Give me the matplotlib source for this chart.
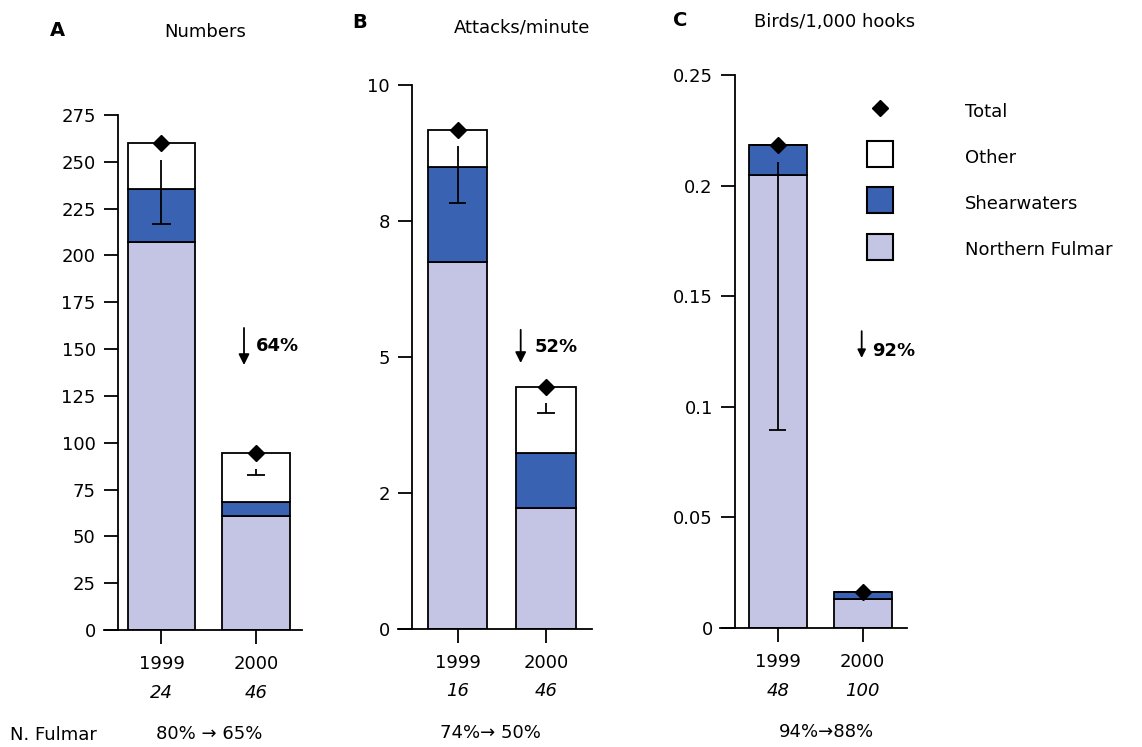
import matplotlib
matplotlib.use("Agg")
import numpy as np
import matplotlib.pyplot as plt
from matplotlib.lines import Line2D

plt.rcParams['font.family'] = ['DejaVu Sans']
plt.rcParams['font.size'] = 13

# data
years = ['1999', '2000']

num_fulmar = [207, 61]
num_shear = [28.5, 7.5]
num_other = [24.5, 26]
num_total = [260, 94.5]
num_err_lo = [217, 83]
num_err_hi = [251, 86]

att_fulmar = [6.75, 2.23]
att_shear = [1.74, 1.0]
att_other = [0.68, 1.22]
att_total = [9.17, 4.45]
att_err_lo = [7.84, 3.97]
att_err_hi = [8.88, 4.16]

hook_fulmar = [0.2048, 0.0129]
hook_shear = [0.0135, 0.0035]
hook_other = [0.0, 0.0]
hook_total = [0.2183, 0.0164]
hook_err_lo = [0.0895, np.nan]
hook_err_hi = [0.2108, np.nan]

num_n = ['24', '46']
att_n = ['16', '46']
hook_n = ['48', '100']

fulmar_pct = ['80% \u2192 65%', '74%\u2192 50%', '94%\u219288%']
drops = ['64%', '52%', '92%']

c_fulmar = '#c4c5e4'
c_shear = '#3a62b2'
c_other = 'white'

W, H = 1142, 747
fig = plt.figure(figsize=(W / 100, H / 100), dpi=100)


def make_axes(box_l, box_r, spine_x, c1, c2, y0, ytop):
    ax = fig.add_axes([box_l / W, (H - y0) / H, (box_r - box_l) / W, (y0 - ytop) / H])
    ppu = c2 - c1
    ax.set_xlim((box_l - c1) / ppu, (box_r - c1) / ppu)
    ax.spines['left'].set_position(('data', (spine_x - c1) / ppu))
    ax.spines['top'].set_visible(False)
    ax.spines['right'].set_visible(False)
    ax.spines['left'].set_linewidth(1.3)
    ax.spines['bottom'].set_linewidth(1.3)
    ax.tick_params(direction='out', length=10, width=1.3, labelsize=13, pad=6)
    ax.tick_params(axis='x', pad=8)
    ax.set_xticks([0, 1])
    ax.set_xticklabels(years)
    return ax


def draw_panel(ax, fulmar, shear, other, total, lo, hi, width, cap):
    x = np.arange(len(years))
    b1 = np.array(fulmar)
    b2 = b1 + np.array(shear)
    ax.bar(x, fulmar, width, color=c_fulmar, edgecolor='black', linewidth=1.3, zorder=2)
    ax.bar(x, shear, width, bottom=b1, color=c_shear, edgecolor='black', linewidth=1.3, zorder=2)
    ax.bar(x, other, width, bottom=b2, color=c_other, edgecolor='black', linewidth=1.3, zorder=2)
    ax.vlines(x, lo, hi, color='black', linewidth=1.3, zorder=3)
    ax.hlines(lo, x - cap, x + cap, color='black', linewidth=1.3, zorder=3)
    ax.plot(x, total, 'D', color='black', markersize=8, zorder=4)


def bottom_text(ax, ns, pct, mid=0.5):
    for i, n in enumerate(ns):
        ax.annotate(n, xy=(i, 0), xycoords=('data', 'axes fraction'),
                    xytext=(0, -45), textcoords='offset points',
                    ha='center', va='center', style='italic', fontsize=13)
    ax.annotate(pct, xy=(mid, 0), xycoords=('data', 'axes fraction'),
                xytext=(0, -75), textcoords='offset points',
                ha='center', va='center', fontsize=13)


def drop_arrow(ax, x, y1, y2, tx, ty, label, ms=16):
    ax.annotate('', xy=(x, y2), xytext=(x, y1),
                arrowprops=dict(arrowstyle='-|>', color='black', lw=1.3,
                                mutation_scale=ms, shrinkA=0, shrinkB=0))
    ax.text(tx, ty, label, fontsize=13, fontweight='bold', ha='left', va='center')


# A - numbers
axA = make_axes(104, 302, 118, 161.5, 256, 630, 115)
axA.set_ylim(0, 275)
axA.set_yticks(np.arange(0, 276, 25))
draw_panel(axA, num_fulmar, num_shear, num_other, num_total, num_err_lo, num_err_hi, 0.71, 0.1)
drop_arrow(axA, 0.873, 161.3, 141.5, 1.0, 151.7, drops[0])
bottom_text(axA, num_n, fulmar_pct[0])

# B - attacks/minute
axB = make_axes(398, 592, 412, 457.5, 546, 629, 85)
axB.set_ylim(0, 10)
axB.set_yticks([0, 2.5, 5, 7.5, 10])
axB.set_yticklabels(['0', '2', '5', '8', '10'])
draw_panel(axB, att_fulmar, att_shear, att_other, att_total, att_err_lo, att_err_hi, 0.67, 0.1)
drop_arrow(axB, 0.714, 5.50, 4.89, 0.876, 5.18, drops[1])
bottom_text(axB, att_n, fulmar_pct[1], mid=0.37)

# C - birds/1,000 hooks
axC = make_axes(720, 907, 735, 777.7, 862.7, 628, 75)
axC.set_ylim(0, 0.25)
axC.set_yticks([0, 0.05, 0.1, 0.15, 0.2, 0.25])
axC.set_yticklabels(['0', '0.05', '0.1', '0.15', '0.2', '0.25'])
draw_panel(axC, hook_fulmar, hook_shear, hook_other, hook_total, hook_err_lo, hook_err_hi, 0.68, 0.1)
drop_arrow(axC, 0.988, 0.1342, 0.1221, 1.106, 0.1252, drops[2], ms=12)
bottom_text(axC, hook_n, fulmar_pct[2], mid=0.57)

# titles
fig.text(57 / W, 1 - 30 / H, 'A', fontsize=14, fontweight='bold', ha='center', va='center')
fig.text(205 / W, 1 - 32 / H, 'Numbers', fontsize=13, ha='center', va='center')
fig.text(360 / W, 1 - 22 / H, 'B', fontsize=14, fontweight='bold', ha='center', va='center')
fig.text(522 / W, 1 - 27 / H, 'Attacks/minute', fontsize=13, ha='center', va='center')
fig.text(680 / W, 1 - 20 / H, 'C', fontsize=14, fontweight='bold', ha='center', va='center')
fig.text(835 / W, 1 - 22 / H, 'Birds/1,000 hooks', fontsize=13, ha='center', va='center')
fig.text(10 / W, 1 - 735 / H, 'N. Fulmar', fontsize=13, ha='left', va='center')

# legend
handles = [
    Line2D([], [], marker='D', color='black', linestyle='none', markersize=8),
    Line2D([], [], marker='s', linestyle='none', markersize=19,
           markerfacecolor=c_other, markeredgecolor='black', markeredgewidth=1.5),
    Line2D([], [], marker='s', linestyle='none', markersize=19,
           markerfacecolor=c_shear, markeredgecolor='black', markeredgewidth=1.5),
    Line2D([], [], marker='s', linestyle='none', markersize=19,
           markerfacecolor=c_fulmar, markeredgecolor='black', markeredgewidth=1.5),
]
labels = ['Total', 'Other', 'Shearwaters', 'Northern Fulmar']
fig.legend(handles, labels, loc='upper left', bbox_to_anchor=(866 / W, 1 - 99 / H),
           frameon=False, fontsize=13, handlelength=1.55, handleheight=1.6,
           handletextpad=3.95, labelspacing=1.28, borderpad=0, borderaxespad=0)

fig.savefig('out.png', dpi=100)
